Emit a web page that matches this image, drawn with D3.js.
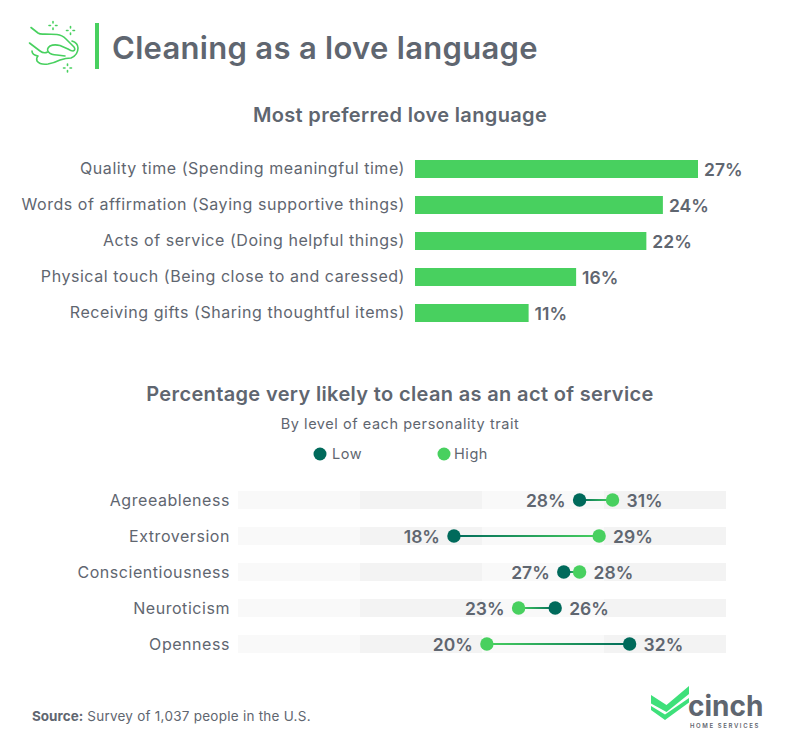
<!DOCTYPE html>
<html>
<head>
<meta charset="utf-8">
<script src="https://cdnjs.cloudflare.com/ajax/libs/d3/7.8.5/d3.min.js"></script>
<style>
body { margin: 0; background: #fff; }
svg { display: block; }
text { font-family: Inter, sans-serif; fill: #5f6670; }
</style>
</head>
<body>
<div id="chart"></div>
<script>
// Top chart
const loveLanguages = [
	"Quality time (Spending meaningful time)",
	"Words of affirmation (Saying supportive things)",
	"Acts of service (Doing helpful things)",
	"Physical touch (Being close to and caressed)",
	"Receiving gifts (Sharing thoughtful items)"
];
const loveValues = [27.4, 24, 22.4, 15.6, 11];
const loveLabels = ["27%", "24%", "22%", "16%", "11%"];

// Bottom chart
const traits = ["Agreeableness", "Extroversion", "Conscientiousness", "Neuroticism", "Openness"];
const lowValues = [28, 17.7, 26.7, 26, 32.1];
const highValues = [30.7, 29.6, 28, 23, 20.4];
const lowLabels = ["28%", "18%", "27%", "26%", "32%"];
const highLabels = ["31%", "29%", "28%", "23%", "20%"];
const bandTicks = [0, 10, 20, 30];

const GREEN = "#48d05f";
const DARK = "#006a5b";
const LABEL_SPACING = 0.55;

const svg = d3.select("#chart").append("svg")
	.attr("width", 801)
	.attr("height", 752);
const defs = svg.append("defs");

function addText(x, y, str, size, weight, anchor, spacing) {
	return svg.append("text")
		.attr("x", x)
		.attr("y", y)
		.attr("font-size", size)
		.attr("font-weight", weight)
		.attr("text-anchor", anchor || "start")
		.attr("letter-spacing", spacing || 0)
		.text(str);
}

/**
 * Header
 */
const icon = svg.append("g")
	.attr("fill", "none")
	.attr("stroke", GREEN)
	.attr("stroke-width", 1.6)
	.attr("stroke-linecap", "round")
	.attr("stroke-linejoin", "round");
icon.append("path").attr("d", "M31 27.5L38 33Q40 34.5 45 34L57 34.5Q62 35 66 39L74 47Q76 50 73 51Q71 51 68 49L60 45.5Q54 44 50 46Q46 49 48.5 52Q51 55 57 55L65 56");
icon.append("path").attr("d", "M29.5 43L40 51Q44 54 47.5 52");
icon.append("path").attr("d", "M32 51Q32 55 38 56Q36 58 37 61Q40 65 48 64Q54 63 60 60Q66 58 71 58Q78 55 78 48Q78 43 72 41");
[[53, 25.5], [70.5, 30.5], [67.5, 68]].forEach(function(p) {
	icon.append("path").attr("d", `M${p[0] - 4} ${p[1]}h1.5M${p[0] + 2.5} ${p[1]}h1.5M${p[0]} ${p[1] - 4}v1.5M${p[0]} ${p[1] + 2.5}v1.5`);
});
svg.append("rect").attr("x", 95).attr("y", 23).attr("width", 4).attr("height", 46).attr("fill", GREEN);
addText(112, 59, "Cleaning as a love language", 31, 600, "start", 0.3);

/**
 * Bar chart
 */
addText(400, 122, "Most preferred love language", 20, 600, "middle", 0.35);

const barX = d3.scaleLinear().domain([0, 27.4]).range([415, 698]);
const barY = d3.scaleBand().domain(loveLanguages).range([151, 331]).paddingInner(0.5).paddingOuter(0.25);

const barRows = svg.append("g").selectAll("g")
	.data(loveLanguages)
	.join("g");

barRows.append("rect")
	.attr("x", barX(0))
	.attr("y", d => barY(d))
	.attr("width", (d, i) => barX(loveValues[i]) - barX(0))
	.attr("height", barY.bandwidth())
	.attr("fill", GREEN);

barRows.append("text")
	.attr("x", barX(0) - 10)
	.attr("y", d => barY(d) + barY.bandwidth() / 2 + 5)
	.attr("text-anchor", "end")
	.attr("font-size", 16)
	.attr("letter-spacing", LABEL_SPACING)
	.text(d => d);

barRows.append("text")
	.attr("x", (d, i) => barX(loveValues[i]) + 6)
	.attr("y", d => barY(d) + barY.bandwidth() / 2 + 6.5)
	.attr("font-size", 17.5)
	.attr("font-weight", 600)
	.text((d, i) => loveLabels[i]);

/**
 * Dumbbell chart
 */
addText(400, 401, "Percentage very likely to clean as an act of service", 20, 600, "middle", 0.35);
addText(400, 429, "By level of each personality trait", 14.5, 400, "middle", LABEL_SPACING);

svg.append("circle").attr("cx", 320).attr("cy", 454).attr("r", 6.5).attr("fill", DARK);
addText(332, 459, "Low", 14.5, 400, "start", LABEL_SPACING);
svg.append("circle").attr("cx", 444).attr("cy", 454).attr("r", 6.5).attr("fill", GREEN);
addText(454, 459, "High", 14.5, 400, "start", LABEL_SPACING);

const dotX = d3.scaleLinear().domain([0, 40]).range([238, 726]);
const dotY = d3.scaleBand().domain(traits).range([482, 662]).paddingInner(0.5).paddingOuter(0.25);
const bandH = dotY.bandwidth();

const rows = svg.append("g").selectAll("g")
	.data(traits)
	.join("g")
	.attr("transform", d => "translate(0," + (dotY(d) + dotY.bandwidth() / 2) + ")");

rows.selectAll("rect")
	.data(bandTicks)
	.join("rect")
	.attr("x", d => dotX(d))
	.attr("y", -bandH / 2)
	.attr("width", d => dotX(d + 10) - dotX(d))
	.attr("height", bandH)
	.attr("fill", (d, i) => i % 2 ? "#f3f3f3" : "#f9f9f9");

rows.append("text")
	.attr("x", 230)
	.attr("y", 5.5)
	.attr("text-anchor", "end")
	.attr("font-size", 16)
	.attr("letter-spacing", LABEL_SPACING)
	.text(d => d);

traits.forEach(function(t, i) {
	let lowX = dotX(lowValues[i]);
	let highX = dotX(highValues[i]);
	let grad = defs.append("linearGradient")
		.attr("id", "link" + i)
		.attr("gradientUnits", "userSpaceOnUse")
		.attr("x1", lowX)
		.attr("x2", highX)
		.attr("y1", 0)
		.attr("y2", 0);
	grad.append("stop").attr("offset", "0%").attr("stop-color", DARK);
	grad.append("stop").attr("offset", "100%").attr("stop-color", GREEN);

	let row = d3.select(rows.nodes()[i]);
	row.append("rect")
		.attr("x", Math.min(lowX, highX))
		.attr("y", -1)
		.attr("width", Math.abs(highX - lowX))
		.attr("height", 2)
		.attr("fill", "url(#link" + i + ")");
	row.append("circle").attr("cx", lowX).attr("r", 6.7).attr("fill", DARK);
	row.append("circle").attr("cx", highX).attr("r", 6.7).attr("fill", GREEN);

	let lowIsLeft = lowX < highX;
	row.append("text")
		.attr("x", lowX + (lowIsLeft ? -14 : 14))
		.attr("y", 6.5)
		.attr("text-anchor", lowIsLeft ? "end" : "start")
		.attr("font-size", 17.5)
		.attr("font-weight", 600)
		.text(lowLabels[i]);
	row.append("text")
		.attr("x", highX + (lowIsLeft ? 14 : -14))
		.attr("y", 6.5)
		.attr("text-anchor", lowIsLeft ? "start" : "end")
		.attr("font-size", 17.5)
		.attr("font-weight", 600)
		.text(highLabels[i]);
});

/**
 * Footer
 */
let source = addText(32, 721, "", 13.5, 400);
source.append("tspan").attr("font-weight", 700).text("Source:");
source.append("tspan").attr("letter-spacing", 0.25).text(" Survey of 1,037 people in the U.S.");

const logo = svg.append("g").attr("fill", "#3ee07a");
logo.append("path").attr("d", "M651 695L666.5 705L689 686V694L666.5 712L651 703.5Z");
logo.append("path").attr("d", "M651 706L665 714.5L689 698V702.5L665 720L651 710Z");
addText(688, 716, "cinch", 28, 700);
addText(690, 728, "HOME SERVICES", 6, 600, "start", 1.6);
</script>
</body>
</html>
